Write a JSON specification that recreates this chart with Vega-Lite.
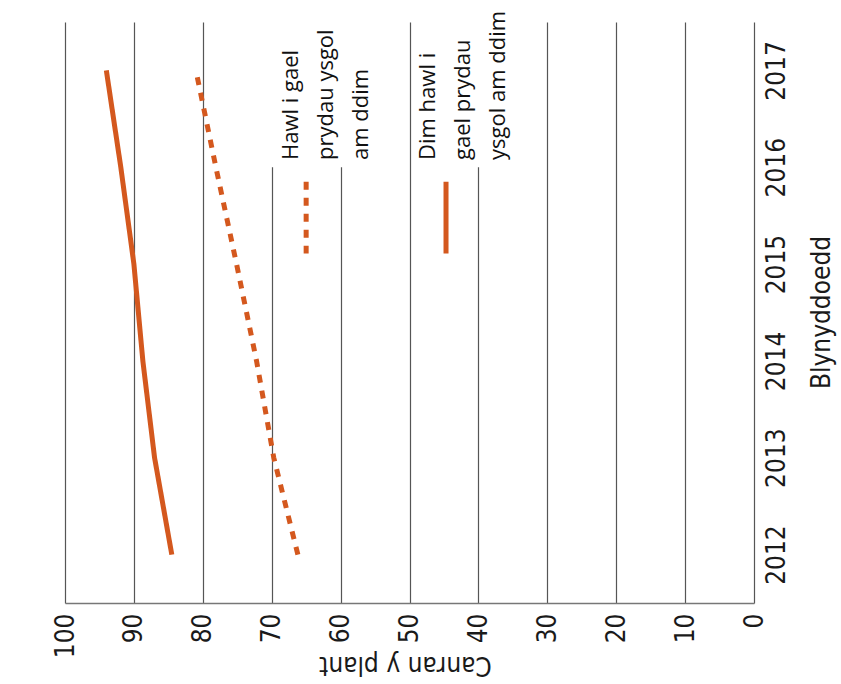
{
  "$schema": "https://vega.github.io/schema/vega-lite/v6.json",
  "width": 689,
  "height": 581,
  "autosize": {"type": "none"},
  "padding": {"left": 65, "top": 22, "right": 87, "bottom": 81},
  "background": "white",
  "config": {
    "view": {"stroke": null},
    "axis": {
      "labelFont": "DejaVu Sans Condensed, Roboto Condensed, Liberation Sans Narrow, Arial Narrow, Roboto, sans-serif",
      "labelFontSize": 26,
      "labelColor": "#1a1a1a",
      "titleFont": "DejaVu Sans Condensed, Roboto Condensed, Liberation Sans Narrow, Arial Narrow, Roboto, sans-serif",
      "titleFontSize": 26,
      "titleFontWeight": "normal",
      "titleColor": "#1a1a1a",
      "ticks": false,
      "gridColor": "#555",
      "gridWidth": 1.2,
      "gridOpacity": 1,
      "domainColor": "#777",
      "domainWidth": 1.5
    }
  },
  "datasets": {
    "main": [
      {"series": "Hawl i gael prydau ysgol am ddim", "year": 2012, "value": 66.2},
      {"series": "Hawl i gael prydau ysgol am ddim", "year": 2013, "value": 69.7},
      {"series": "Hawl i gael prydau ysgol am ddim", "year": 2014, "value": 72.2},
      {"series": "Hawl i gael prydau ysgol am ddim", "year": 2015, "value": 75.1},
      {"series": "Hawl i gael prydau ysgol am ddim", "year": 2016, "value": 78.1},
      {"series": "Hawl i gael prydau ysgol am ddim", "year": 2017, "value": 81.0},
      {"series": "Dim hawl i gael prydau ysgol am ddim", "year": 2012, "value": 84.5},
      {"series": "Dim hawl i gael prydau ysgol am ddim", "year": 2013, "value": 87.0},
      {"series": "Dim hawl i gael prydau ysgol am ddim", "year": 2014, "value": 88.7},
      {"series": "Dim hawl i gael prydau ysgol am ddim", "year": 2015, "value": 90.0},
      {"series": "Dim hawl i gael prydau ysgol am ddim", "year": 2016, "value": 91.9},
      {"series": "Dim hawl i gael prydau ysgol am ddim", "year": 2017, "value": 94.0}
    ],
    "legendMask": [
      {"series": "Hawl i gael prydau ysgol am ddim", "value": 72, "value2": 53, "year": 2017.5, "year2": 2016.0},
      {"series": "Dim hawl i gael prydau ysgol am ddim", "value": 48, "value2": 32, "year": 2017.5, "year2": 2016.0}
    ],
    "legendSymbol": [
      {"series": "Hawl i gael prydau ysgol am ddim", "value": 65.0, "year": 2015.85, "year2": 2015.11},
      {"series": "Dim hawl i gael prydau ysgol am ddim", "value": 44.7, "year": 2015.85, "year2": 2015.11}
    ],
    "legendLabel": [
      {"series": "Hawl i gael prydau ysgol am ddim", "label": "Hawl i gael\nprydau ysgol\nam ddim", "value": 66.2, "year": 2016.075},
      {"series": "Dim hawl i gael prydau ysgol am ddim", "label": "Dim hawl i\ngael prydau\nysgol am ddim", "value": 46.3, "year": 2016.075}
    ]
  },
  "encoding": {
    "x": {
      "field": "value",
      "type": "quantitative",
      "scale": {"domain": [0, 100], "reverse": true, "nice": false, "zero": false},
      "axis": {
        "orient": "bottom",
        "values": [0, 10, 20, 30, 40, 50, 60, 70, 80, 90, 100],
        "grid": true,
        "domain": true,
        "labelAngle": -90,
        "labelAlign": "right",
        "labelBaseline": "middle",
        "labelPadding": 10,
        "title": "Canran y plant",
        "titleAngle": 180,
        "titleAlign": "center",
        "titleBaseline": "alphabetic",
        "titleX": 340,
        "titleY": 53
      }
    },
    "y": {
      "field": "year",
      "type": "quantitative",
      "scale": {"domain": [2011.5, 2017.5], "nice": false, "zero": false},
      "axis": {
        "orient": "right",
        "values": [2012, 2013, 2014, 2015, 2016, 2017],
        "format": "d",
        "grid": false,
        "domain": false,
        "labelAngle": -90,
        "labelAlign": "center",
        "labelBaseline": "top",
        "labelPadding": 9,
        "title": "Blynyddoedd",
        "titleAngle": -90,
        "titleAlign": "center",
        "titleBaseline": "top",
        "titleX": 54,
        "titleY": 290
      }
    }
  },
  "layer": [
    {
      "data": {"name": "legendMask"},
      "mark": {"type": "rect", "fill": "white", "stroke": null},
      "encoding": {
        "x2": {"field": "value2"},
        "y2": {"field": "year2"}
      }
    },
    {
      "data": {"name": "main"},
      "mark": {"type": "line", "color": "#D4581E", "strokeWidth": 5, "strokeCap": "butt"},
      "encoding": {
        "order": {"field": "year", "type": "quantitative"},
        "strokeDash": {
          "field": "series",
          "type": "nominal",
          "scale": {
            "domain": ["Hawl i gael prydau ysgol am ddim", "Dim hawl i gael prydau ysgol am ddim"],
            "range": [[8, 8], [1, 0]]
          },
          "legend": null
        }
      }
    },
    {
      "data": {"name": "legendSymbol"},
      "mark": {"type": "rule", "color": "#D4581E", "strokeWidth": 5, "strokeCap": "butt"},
      "encoding": {
        "y2": {"field": "year2"},
        "strokeDash": {
          "field": "series",
          "type": "nominal",
          "scale": {
            "domain": ["Hawl i gael prydau ysgol am ddim", "Dim hawl i gael prydau ysgol am ddim"],
            "range": [[8, 8], [1, 0]]
          },
          "legend": null
        }
      }
    },
    {
      "data": {"name": "legendLabel"},
      "mark": {
        "type": "text",
        "font": "Open Sans",
        "fontSize": 22,
        "color": "#111",
        "angle": -90,
        "align": "left",
        "baseline": "alphabetic",
        "lineBreak": "\n",
        "lineHeight": 35
      },
      "encoding": {
        "text": {"field": "label", "type": "nominal"}
      }
    }
  ]
}
